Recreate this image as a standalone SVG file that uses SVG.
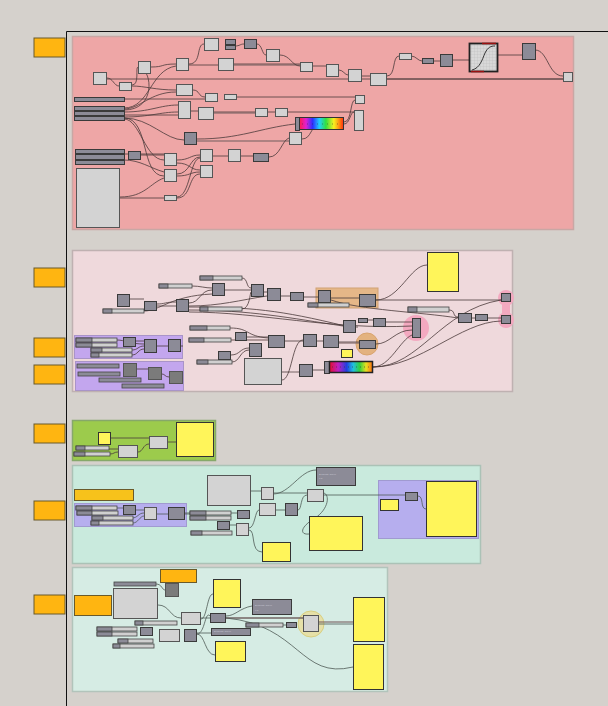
<svg xmlns="http://www.w3.org/2000/svg" width="608" height="706" viewBox="0 0 608 706">
<style>
.g{fill:#d3d3d3;stroke:#555;stroke-width:1}
.d{fill:#8c8b97;stroke:#3a3a3a;stroke-width:1}
.dd{fill:#7b7b7b;stroke:#555;stroke-width:1}
.y{fill:#fff55a;stroke:#333;stroke-width:1}
.sl{fill:#d0d0d0;stroke:#444;stroke-width:0.8}
.sd{fill:#8c8b97;stroke:#444;stroke-width:0.8}
.tab{fill:#ffb511;stroke:#6a5a2a;stroke-width:1}
.w{fill:none;stroke:#4a3a3a;stroke-width:0.8}
.wt{fill:none;stroke:#7a6262;stroke-width:2;opacity:0.55}
.wm{fill:none;stroke:#4f5a55;stroke-width:0.8}
.tt{font-family:"Liberation Sans",sans-serif;font-size:2.5px;fill:#c8c8d4}
</style>
<defs>
<linearGradient id="rb" x1="0" x2="1" y1="0" y2="0">
<stop offset="0" stop-color="#ff1a4a"/><stop offset="0.15" stop-color="#e020d0"/><stop offset="0.3" stop-color="#2a30ff"/><stop offset="0.45" stop-color="#20d0ff"/><stop offset="0.6" stop-color="#30e040"/><stop offset="0.78" stop-color="#f8f020"/><stop offset="0.9" stop-color="#ff9010"/><stop offset="1" stop-color="#ff2a10"/>
</linearGradient>
<linearGradient id="rb2" x1="0" x2="1" y1="0" y2="0">
<stop offset="0" stop-color="#e01030"/><stop offset="0.2" stop-color="#c020c0"/><stop offset="0.4" stop-color="#2040e0"/><stop offset="0.55" stop-color="#20c0e0"/><stop offset="0.7" stop-color="#30d040"/><stop offset="0.85" stop-color="#e8e020"/><stop offset="1" stop-color="#ff7010"/>
</linearGradient>
<pattern id="grid" width="3" height="3" patternUnits="userSpaceOnUse"><rect width="3" height="3" fill="#d8d8d8"/><path d="M3 0H0V3" fill="none" stroke="#b8b8b8" stroke-width="0.5"/></pattern>
</defs>
<rect width="608" height="706" fill="#d5d1cc"/>
<path d="M66.5 706V31.5H608" fill="none" stroke="#111" stroke-width="1"/>

<g id="tabs">
<rect class="tab" x="34" y="38" width="31" height="19"/>
<rect class="tab" x="34" y="268" width="31" height="19"/>
<rect class="tab" x="34" y="338" width="31" height="19"/>
<rect class="tab" x="34" y="365" width="31" height="19"/>
<rect class="tab" x="34" y="424" width="31" height="19"/>
<rect class="tab" x="34" y="501" width="31" height="19"/>
<rect class="tab" x="34" y="595" width="31" height="19"/>
</g>

<g id="group1">
<rect x="72.5" y="36.5" width="501" height="193" fill="#eea6a6" stroke="#c9a7a4" stroke-width="1.5"/>
</g>
<g id="group2">
<rect x="72.5" y="250.5" width="440" height="141" fill="#efd9dc" stroke="#bfb1b1" stroke-width="1.5"/>
<rect x="74.5" y="335.5" width="108" height="23" fill="#c3a6ee" stroke="#a994c8"/>
<rect x="75.5" y="361.5" width="108" height="29" fill="#c3a6ee" stroke="#a994c8"/>
<rect x="316" y="288" width="62" height="20" fill="#e5b684" stroke="#cfa070" opacity="0.95"/>
<circle cx="506" cy="298" r="8" fill="#f3a9c0"/>
<circle cx="506" cy="320" r="8" fill="#f3a9c0"/>
<rect x="502" y="298" width="8" height="22" fill="#f3a9c0"/>
<circle cx="416" cy="328" r="13" fill="#f3a9c0"/>
<circle cx="367" cy="344" r="11" fill="#e3b27f" stroke="#d9a46e"/>
</g>
<g id="group3">
<rect x="72.5" y="420.5" width="143" height="40" fill="#9ccb4c" stroke="#86a86a" stroke-width="1.5"/>
</g>
<g id="group4">
<rect x="72.5" y="465.5" width="408" height="98" fill="#c9eadd" stroke="#abc2b6" stroke-width="1.5"/>
<rect x="74.5" y="503.5" width="112" height="23" fill="#b6aeee" stroke="#a09ad0"/>
<rect x="378.5" y="480.5" width="100" height="58" fill="#b6aeee" stroke="#a09ad0"/>
</g>
<g id="group5">
<rect x="72.5" y="567.5" width="315" height="124" fill="#d6ece4" stroke="#b2c4bb" stroke-width="1.5"/>
<circle cx="311" cy="624" r="13" fill="#e6e0a8" stroke="#d8cf80"/>
</g>

<g id="connectors">
<path class="w" d="M107 79H563"/>
<path class="w" d="M107 78C113 78 114 86 119 86"/>
<path class="w" d="M132 86C145 86 155 90 176 90"/>
<path class="w" d="M132 85C140 85 135 67 138 67"/>
<path class="w" d="M151 67C165 67 160 64 176 64"/>
<path class="w" d="M189 64C202 64 196 44 204 44"/>
<path class="w" d="M189 65H218"/>
<path class="w" d="M234 64H300 M313 66H326"/>
<path class="wt" d="M234 65H300"/>
<path class="w" d="M235 46C240 46 240 44 244 44"/>
<path class="w" d="M257 44C262 44 262 55 266 55"/>
<path class="w" d="M280 55C290 55 292 66 300 66"/>
<path class="w" d="M339 70C343 70 345 75 348 75 M362 76H370"/>
<path class="w" d="M387 76C396 76 392 56 399 56 M411 56C416 56 418 61 422 61 M434 61H440"/>
<path class="w" d="M387 79H563"/>
<path class="w" d="M453 60H469 M498 55H522"/>
<path class="w" d="M535 50C548 50 548 76 563 76"/>
<path class="w" d="M193 90C200 90 198 97 205 97"/>
<path class="w" d="M124 99H205 M236 97H355"/>
<path class="w" d="M124 108C150 108 150 70 176 66"/>
<path class="w" d="M124 110C160 110 150 62 138 70"/>
<path class="w" d="M124 112C150 112 160 105 178 105"/>
<path class="w" d="M124 115H178 M124 117C150 117 160 112 178 112"/>
<path class="w" d="M124 118C150 118 165 140 184 140"/>
<path class="w" d="M190 111H198 M214 112H255 M268 112H275"/>
<path class="wt" d="M214 113H255"/>
<path class="w" d="M124 109C140 109 150 92 176 92"/>
<path class="w" d="M288 112H354"/>
<path class="w" d="M124 119C140 119 145 160 164 160"/>
<path class="w" d="M124 118C150 118 140 176 164 176"/>
<path class="w" d="M197 139C240 139 260 128 295 124"/>
<path class="wt" d="M197 141H289"/>
<path class="w" d="M302 139C312 139 310 125 320 125"/>
<path class="w" d="M344 124C350 124 350 112 354 112 M344 122C352 122 350 100 355 100"/>
<path class="w" d="M124 154H164 M141 155H164"/>
<path class="w" d="M124 160C140 160 150 168 164 172"/>
<path class="w" d="M177 160C190 160 190 155 200 155 M177 163C190 163 190 170 200 170"/>
<path class="w" d="M177 174C190 174 190 157 200 157 M177 176C190 176 190 172 200 172"/>
<path class="w" d="M213 156H228 M241 156H253"/>
<path class="w" d="M269 157C280 157 282 140 289 138"/>
<path class="w" d="M120 197C145 197 150 183 164 178"/>
<path class="w" d="M120 198H164 M177 197C190 197 190 158 200 158 M177 198C192 198 188 174 200 174"/>
<path class="w" d="M130 299H144 M157 304C165 304 165 302 176 302 M157 306H176"/>
<path class="w" d="M144 311C160 311 170 296 212 294"/>
<path class="w" d="M189 303C200 303 200 290 212 290 M192 286C200 286 205 288 212 288"/>
<path class="w" d="M225 290H251 M242 278C248 278 246 288 251 288"/>
<path class="w" d="M242 309C250 309 250 292 251 292 M189 306C220 306 240 300 267 296"/>
<path class="w" d="M264 292H267 M281 296H290 M304 297H318"/>
<path class="w" d="M189 307C250 307 280 310 345 326"/>
<path class="w" d="M189 310C250 310 290 318 343 326 M189 312C260 312 330 330 412 326"/>
<path class="w" d="M331 298H359 M376 300C400 300 410 265 427 265"/>
<path class="w" d="M376 300H501 M331 300C360 310 420 312 458 318"/>
<path class="w" d="M449 310C456 310 452 317 458 317 M472 318H475 M488 318H501"/>
<path class="w" d="M356 327H358 M368 320H373 M386 322H412"/>
<path class="w" d="M230 328C250 328 245 336 268 338 M247 337H268 M285 341H303 M317 341H323 M339 342H359"/>
<path class="wt" d="M231 340H268 M339 343H359"/>
<path class="w" d="M232 362C240 362 240 350 249 350 M231 355C240 355 240 348 249 348"/>
<path class="w" d="M282 372C298 372 292 372 299 372 M282 380C292 380 292 340 303 340"/>
<path class="w" d="M313 370H324"/>
<path class="w" d="M376 344C390 344 395 330 412 330 M373 367C390 367 400 340 412 335"/>
<path class="w" d="M373 367C420 367 440 310 501 300 M373 367C420 367 460 322 501 321"/>
<path class="w" d="M136 341H144 M157 346H168 M181 346H183 M117 340C125 340 130 344 144 344 M132 350C138 350 138 346 144 346 M132 355C138 355 138 349 144 349"/>
<path class="w" d="M137 369H148 M162 374C165 374 165 377 169 377"/>
<path class="w" d="M111 438H149 M109 449H118 M110 454C114 454 114 452 118 452 M138 452C143 452 143 444 149 444 M168 442H176"/>
<path class="wm" d="M117 508H123 M136 510H144 M157 514H168 M132 518C138 518 138 513 144 513 M133 523C138 523 140 516 144 516"/>
<path class="wm" d="M184 514H190 M231 513H237 M184 513C200 513 200 512 207 512"/>
<path class="wm" d="M251 491H261 M273 494C290 494 300 470 316 470 M273 493H307"/>
<path class="wm" d="M229 525H236 M249 528C255 528 255 510 259 510 M249 530C256 530 250 552 262 552 M276 510H285 M298 510C302 510 300 495 307 495"/>
<path class="wm" d="M323 495H405 M323 493C330 493 330 510 312 520C300 528 300 535 309 534"/>
<path class="wm" d="M418 496C424 496 420 509 426 509"/>
<path class="wm" d="M156 584C162 584 162 590 165 590 M158 605C170 605 170 618 181 618 M201 618H210 M226 618H303 M318 624H353"/>
<path class="wt" d="M226 618H303 M318 622H353"/>
<path class="wm" d="M201 619C207 619 207 594 213 594 M226 616C235 616 240 608 252 606 M197 634C205 634 205 610 210 616 M197 634C205 634 205 655 215 655 M197 633H211"/>
<path class="wm" d="M226 618C300 625 300 680 353 667 M283 625H286"/>
</g>

<g id="nodes">
<rect class="g" x="93.5" y="72.5" width="13" height="12"/>
<rect class="g" x="119.5" y="82.5" width="12" height="8"/>
<rect class="g" x="138.5" y="61.5" width="12" height="12"/>
<rect class="g" x="176.5" y="58.5" width="12" height="12"/>
<rect class="g" x="204.5" y="38.5" width="14" height="12"/>
<rect class="d" x="225.5" y="39.5" width="10" height="5"/>
<rect class="d" x="225.5" y="45.5" width="10" height="4"/>
<rect class="d" x="244.5" y="39.5" width="12" height="9"/>
<rect class="g" x="266.5" y="49.5" width="13" height="12"/>
<rect class="g" x="218.5" y="58.5" width="15" height="12"/>
<rect class="g" x="300.5" y="62.5" width="12" height="9"/>
<rect class="g" x="326.5" y="64.5" width="12" height="12"/>
<rect class="g" x="176.5" y="84.5" width="16" height="11"/>
<rect class="g" x="205.5" y="93.5" width="12" height="8"/>
<rect class="g" x="224.5" y="94.5" width="12" height="5"/>
<rect class="d" x="74.5" y="97.5" width="50" height="4"/>
<rect class="d" x="74.5" y="106.5" width="50" height="4"/>
<rect class="d" x="74.5" y="111.5" width="50" height="4"/>
<rect class="d" x="74.5" y="116.5" width="50" height="4"/>
<rect class="g" x="178.5" y="101.5" width="12" height="17"/>
<rect class="g" x="198.5" y="107.5" width="15" height="12"/>
<rect class="g" x="255.5" y="108.5" width="12" height="8"/>
<rect class="g" x="275.5" y="108.5" width="12" height="8"/>
<rect class="d" x="295.5" y="117.5" width="4" height="13"/>
<rect x="299.5" y="117.5" width="44" height="12" fill="url(#rb)" stroke="#333" stroke-width="1"/>
<path d="M302 124H342" stroke="#333" stroke-width="0.5" stroke-dasharray="1 4"/>
<rect class="d" x="184.5" y="132.5" width="12" height="12"/>
<rect class="g" x="289.5" y="132.5" width="12" height="12"/>
<rect class="d" x="75.5" y="149.5" width="49" height="4"/>
<rect class="d" x="75.5" y="154.5" width="49" height="5"/>
<rect class="d" x="75.5" y="160.5" width="49" height="4"/>
<rect class="d" x="128.5" y="151.5" width="12" height="8"/>
<rect class="g" x="164.5" y="153.5" width="12" height="12"/>
<rect class="g" x="164.5" y="169.5" width="12" height="12"/>
<rect class="g" x="200.5" y="149.5" width="12" height="12"/>
<rect class="g" x="200.5" y="165.5" width="12" height="12"/>
<rect class="g" x="228.5" y="149.5" width="12" height="12"/>
<rect class="d" x="253.5" y="153.5" width="15" height="8"/>
<rect class="g" x="76.5" y="168.5" width="43" height="59"/>
<rect class="g" x="164.5" y="195.5" width="12" height="5"/>
<rect class="g" x="348.5" y="69.5" width="13" height="12"/>
<rect class="g" x="370.5" y="73.5" width="16" height="12"/>
<rect class="g" x="399.5" y="53.5" width="12" height="6"/>
<rect class="d" x="422.5" y="58.5" width="11" height="5"/>
<rect class="d" x="440.5" y="54.5" width="12" height="12"/>
<rect x="469.5" y="43.5" width="28" height="28" fill="url(#grid)" stroke="#222" stroke-width="1.8"/>
<path d="M482 43.5H496 M471 71.5H484" stroke="#9a1010" stroke-width="1.5"/>
<path d="M472 70C480 68 482 60 485 53C488 47 491 46 495 46" fill="none" stroke="#222" stroke-width="0.9"/>
<rect class="d" x="522.5" y="43.5" width="13" height="16"/>
<rect class="g" x="563.5" y="72.5" width="9" height="9"/>
<rect class="g" x="355.5" y="95.5" width="9" height="8"/>
<rect class="g" x="354.5" y="110.5" width="9" height="20"/>

<rect class="sl" x="200" y="276" width="42" height="4"/><rect class="sd" x="200" y="276" width="13" height="4"/>
<rect class="sl" x="159" y="284" width="33" height="4"/><rect class="sd" x="159" y="284" width="9" height="4"/>
<rect class="d" x="117.5" y="294.5" width="12" height="12"/>
<rect class="sl" x="103" y="309" width="41" height="4"/><rect class="sd" x="103" y="309" width="9" height="4"/>
<rect class="d" x="144.5" y="301.5" width="12" height="9"/>
<rect class="d" x="176.5" y="299.5" width="12" height="12"/>
<rect class="d" x="212.5" y="283.5" width="12" height="12"/>
<rect class="sl" x="200" y="307" width="42" height="4"/><rect class="sd" x="200" y="307" width="8" height="4"/>
<rect class="d" x="251.5" y="284.5" width="12" height="12"/>
<rect class="d" x="267.5" y="288.5" width="13" height="12"/>
<rect class="d" x="290.5" y="292.5" width="13" height="8"/>
<rect class="sl" x="190" y="326" width="40" height="4"/><rect class="sd" x="190" y="326" width="17" height="4"/>
<rect class="sl" x="189" y="338" width="42" height="4"/><rect class="sd" x="189" y="338" width="15" height="4"/>
<rect class="d" x="235.5" y="332.5" width="11" height="8"/>
<rect class="d" x="268.5" y="335.5" width="16" height="12"/>
<rect class="d" x="218.5" y="351.5" width="12" height="8"/>
<rect class="d" x="249.5" y="343.5" width="12" height="13"/>
<rect class="sl" x="197" y="360" width="35" height="4"/><rect class="sd" x="197" y="360" width="11" height="4"/>
<rect class="g" x="244.5" y="358.5" width="37" height="26"/>
<rect class="sl" x="76" y="338" width="41" height="4"/><rect class="sd" x="76" y="338" width="16" height="4"/>
<rect class="sl" x="76" y="343" width="41" height="4"/><rect class="sd" x="76" y="343" width="16" height="4"/>
<rect class="sl" x="91" y="348" width="41" height="4"/><rect class="sd" x="91" y="348" width="11" height="4"/>
<rect class="sl" x="91" y="353" width="41" height="4"/><rect class="sd" x="91" y="353" width="8" height="4"/>
<rect class="d" x="123.5" y="337.5" width="12" height="9"/>
<rect class="d" x="144.5" y="339.5" width="12" height="13"/>
<rect class="d" x="168.5" y="339.5" width="12" height="12"/>
<rect class="sd" x="77" y="364" width="42" height="4"/>
<rect class="sd" x="78" y="372" width="42" height="4"/>
<rect class="sd" x="99" y="378" width="42" height="4"/>
<rect class="sd" x="122" y="384" width="42" height="4"/>
<rect class="dd" x="123.5" y="363.5" width="13" height="13"/>
<rect class="dd" x="148.5" y="367.5" width="13" height="12"/>
<rect class="dd" x="169.5" y="371.5" width="13" height="12"/>
<rect class="d" x="318.5" y="290.5" width="12" height="12"/>
<rect class="sl" x="308" y="303" width="41" height="4"/><rect class="sd" x="308" y="303" width="10" height="4"/>
<rect class="d" x="359.5" y="294.5" width="16" height="12"/>
<rect class="y" x="427.5" y="252.5" width="31" height="39"/>
<rect class="sl" x="408" y="307" width="41" height="5"/><rect class="sd" x="408" y="307" width="9" height="5"/>
<rect class="d" x="458.5" y="313.5" width="13" height="9"/>
<rect class="d" x="475.5" y="314.5" width="12" height="6"/>
<rect class="d" x="501.5" y="293.5" width="9" height="8"/>
<rect class="d" x="501.5" y="315.5" width="9" height="8"/>
<rect class="d" x="343.5" y="320.5" width="12" height="12"/>
<rect class="d" x="358.5" y="318.5" width="9" height="4"/>
<rect class="d" x="373.5" y="318.5" width="12" height="8"/>
<rect class="d" x="412.5" y="318.5" width="8" height="19"/>
<rect class="d" x="303.5" y="334.5" width="13" height="12"/>
<rect class="d" x="323.5" y="335.5" width="15" height="12"/>
<rect class="d" x="359.5" y="340.5" width="16" height="8"/>
<rect class="y" x="341.5" y="349.5" width="11" height="8"/>
<rect class="d" x="299.5" y="364.5" width="13" height="12"/>
<rect class="d" x="324.5" y="361.5" width="5" height="12"/>
<rect x="329.5" y="361.5" width="43" height="11" fill="url(#rb2)" stroke="#222" stroke-width="1.5"/>
<path d="M332 367H370" stroke="#333" stroke-width="0.6" stroke-dasharray="1 3"/>

<rect class="y" x="98.5" y="432.5" width="12" height="12"/>
<rect class="sl" x="76" y="446" width="33" height="4"/><rect class="sd" x="76" y="446" width="9" height="4"/>
<rect class="sl" x="74" y="452" width="36" height="4"/><rect class="sd" x="74" y="452" width="11" height="4"/>
<rect class="g" x="118.5" y="445.5" width="19" height="12"/>
<rect class="g" x="149.5" y="436.5" width="18" height="12"/>
<rect class="y" x="176.5" y="422.5" width="37" height="34"/>

<rect x="74.5" y="489.5" width="59" height="11" fill="#f7c21b" stroke="#6a5a2a"/>
<rect class="sl" x="76" y="506" width="41" height="4"/><rect class="sd" x="76" y="506" width="16" height="4"/>
<rect class="sl" x="77" y="511" width="41" height="4"/><rect class="sd" x="77" y="511" width="15" height="4"/>
<rect class="sl" x="92" y="516" width="41" height="4"/><rect class="sd" x="92" y="516" width="11" height="4"/>
<rect class="sl" x="91" y="521" width="42" height="4"/><rect class="sd" x="91" y="521" width="8" height="4"/>
<rect class="d" x="123.5" y="505.5" width="12" height="9"/>
<rect class="g" x="144.5" y="507.5" width="12" height="12"/>
<rect class="d" x="168.5" y="507.5" width="16" height="12"/>
<rect class="g" x="207.5" y="475.5" width="43" height="30"/>
<rect class="g" x="261.5" y="487.5" width="12" height="12"/>
<rect class="sl" x="190" y="511" width="41" height="4"/><rect class="sd" x="190" y="511" width="16" height="4"/>
<rect class="sl" x="190" y="516" width="41" height="4"/><rect class="sd" x="190" y="516" width="16" height="4"/>
<rect class="d" x="237.5" y="510.5" width="12" height="8"/>
<rect class="d" x="217.5" y="521.5" width="12" height="8"/>
<rect class="g" x="236.5" y="523.5" width="12" height="12"/>
<rect class="sl" x="191" y="531" width="41" height="4"/><rect class="sd" x="191" y="531" width="11" height="4"/>
<rect class="g" x="259.5" y="503.5" width="16" height="12"/>
<rect class="d" x="285.5" y="503.5" width="12" height="12"/>
<rect class="y" x="262.5" y="542.5" width="28" height="19"/>
<g id="n_dark_text1">
<rect class="d" x="316.5" y="467.5" width="39" height="18"/>
<text class="tt" x="319" y="475">Evaluate Curve</text>
<text class="tt" x="319" y="479">0.5</text>
</g>
<rect class="g" x="307.5" y="489.5" width="16" height="12"/>
<rect class="y" x="309.5" y="516.5" width="53" height="34"/>
<rect class="d" x="405.5" y="492.5" width="12" height="8"/>
<rect class="y" x="380.5" y="499.5" width="18" height="11"/>
<rect class="y" x="426.5" y="481.5" width="50" height="55"/>

<rect class="tab" x="160.5" y="569.5" width="36" height="13"/>
<rect class="tab" x="74.5" y="595.5" width="37" height="20"/>
<rect class="sd" x="114" y="582" width="42" height="4"/>
<rect class="dd" x="165.5" y="583.5" width="13" height="13"/>
<rect class="g" x="113.5" y="588.5" width="44" height="30"/>
<rect class="y" x="213.5" y="579.5" width="27" height="28"/>
<g id="n_dark_text2">
<rect class="d" x="252.5" y="599.5" width="39" height="15"/>
<text class="tt" x="255" y="606">Evaluate Curve</text>
<text class="tt" x="255" y="611">0.5</text>
</g>
<rect class="g" x="181.5" y="612.5" width="19" height="12"/>
<rect class="d" x="210.5" y="613.5" width="15" height="9"/>
<rect class="sl" x="135" y="621" width="42" height="4"/><rect class="sd" x="135" y="621" width="8" height="4"/>
<rect class="sl" x="246" y="623" width="37" height="4"/><rect class="sd" x="246" y="623" width="13" height="4"/>
<rect class="d" x="286.5" y="622.5" width="10" height="5"/>
<rect class="g" x="303.5" y="615.5" width="15" height="16"/>
<rect class="y" x="353.5" y="597.5" width="31" height="44"/>
<rect class="y" x="353.5" y="644.5" width="30" height="45"/>
<rect class="sl" x="97" y="627" width="40" height="4"/><rect class="sd" x="97" y="627" width="15" height="4"/>
<rect class="sl" x="97" y="632" width="40" height="4"/><rect class="sd" x="97" y="632" width="15" height="4"/>
<rect class="d" x="140.5" y="627.5" width="12" height="8"/>
<rect class="g" x="159.5" y="629.5" width="20" height="12"/>
<rect class="d" x="184.5" y="629.5" width="12" height="12"/>
<g id="n_dark_text3">
<rect class="d" x="211.5" y="628.5" width="39" height="7"/>
<text class="tt" x="214" y="632">Evaluate Curve</text>
</g>
<rect class="sl" x="118" y="639" width="35" height="4"/><rect class="sd" x="118" y="639" width="10" height="4"/>
<rect class="sl" x="113" y="644" width="41" height="4"/><rect class="sd" x="113" y="644" width="7" height="4"/>
<rect class="y" x="215.5" y="641.5" width="30" height="20"/>
</g>
</svg>
